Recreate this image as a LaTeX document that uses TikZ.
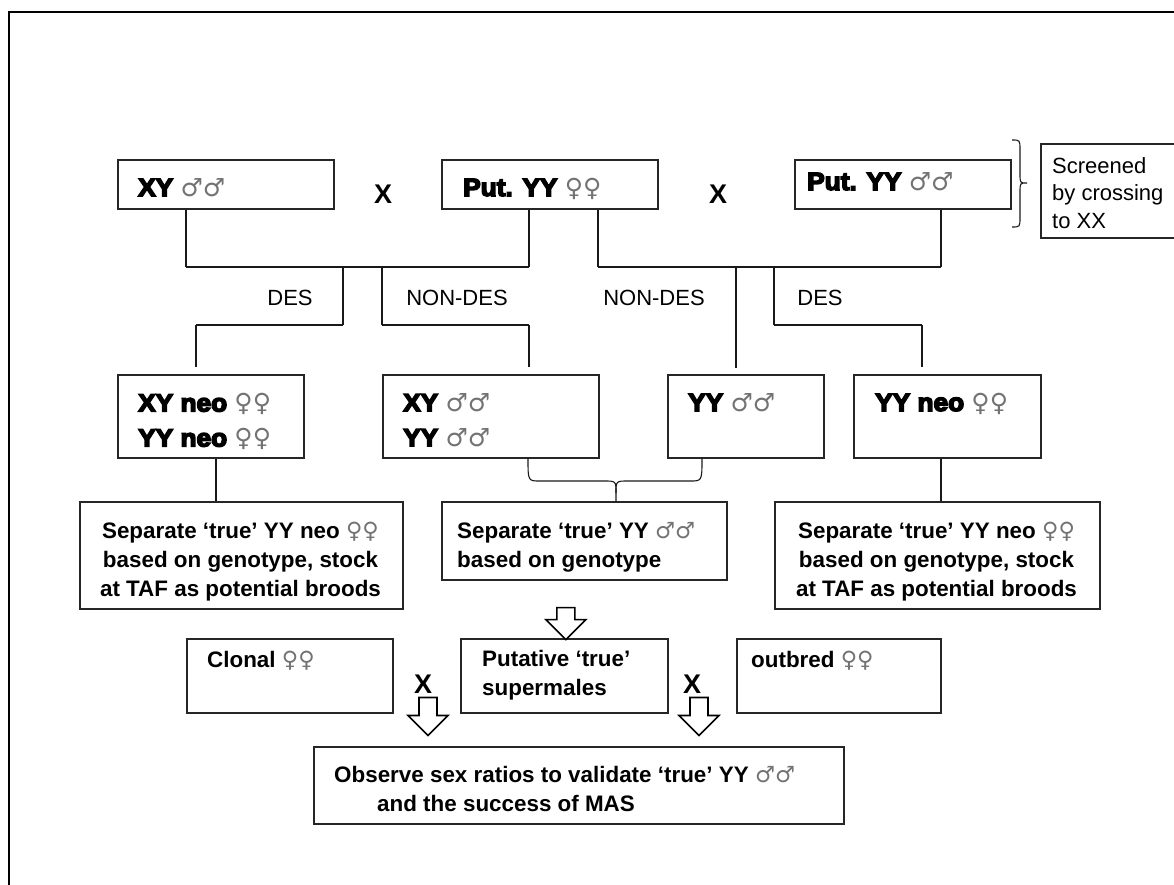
\documentclass[tikz,border=0pt]{standalone}
\usepackage{fontspec}
\setmainfont{Liberation Sans}
\newfontfamily\heavyfont[FakeBold=6, FakeStretch=1.05]{Liberation Sans Bold}
\newfontfamily\symfont{DejaVu Sans}
\usetikzlibrary{positioning, calc}
\newcommand{\mm}{{\symfont\color{black!55}♂♂}}
\newcommand{\ff}{{\symfont\color{black!55}♀♀}}
\tikzset{
  box/.style={rectangle, draw=black!85, line width=1.6pt, anchor=north west, inner sep=0pt},
  conn/.style={draw=black!90, line width=1.1pt},
  bar/.style={draw=black!90, line width=2pt},
  heavy/.style={font=\heavyfont\fontsize{25}{35}\selectfont, inner sep=0pt, align=left},
  bold/.style={font=\bfseries\fontsize{22.4}{29}\selectfont, inner sep=0pt},
  plain/.style={font=\fontsize{22}{27.5}\selectfont, inner sep=0pt},
  cross/.style={font=\bfseries\fontsize{27}{27}\selectfont, inner sep=0pt},
  pics/hollow/.style={code={\draw[line width=1.6pt, fill=white, line join=miter]
    (-9,0) -- (9,0) -- (9,#1) -- (20,#1) -- (0,#1+20) -- (-20,#1) -- (-9,#1) -- cycle;}},
  pics/hollow/.default=18
}
\begin{document}
\begin{tikzpicture}[x=1pt, y=-1pt]
  \useasboundingbox (0,0) rectangle (1174,884);
  % frame
  \draw[line width=2.2pt] (9,890) -- (9,12) -- (1180,12);

  % parents
  \node[box, minimum width=216, minimum height=49] (xy) at (117,159) {};
  \node[box, minimum width=216, minimum height=49] (pyyf) at (441,159) {};
  \node[box, minimum width=216, minimum height=49] (pyym) at (794,159) {};
  \node[box, minimum width=140, minimum height=94] (screen) at (1040,143) {};
  \node[heavy, anchor=base west] (txy) at (138,196) {XY \mm};
  \node[heavy, anchor=base west] (tpyyf) at (463,196) {Put. YY \ff};
  \node[heavy, anchor=base west] (tpyym) at (807,190) {Put. YY \mm};
  \node[plain, anchor=north west, align=left] (tscreen) at (1052,157)
    {Screened\\by crossing\\to XX};
  \node[cross] (x1) at (383,194) {X};
  \node[cross] (x2) at (718,194) {X};
  \draw[conn] (1012,140) .. controls (1020,140) .. (1020,150) -- (1020,174)
    .. controls (1020,183) .. (1027,183) .. controls (1020,183) .. (1020,192)
    -- (1020,217) .. controls (1020,227) .. (1012,227);

  % offspring
  \node[box, minimum width=186, minimum height=83] (neof) at (117,374) {};
  \node[box, minimum width=216, minimum height=83] (xyyym) at (382,374) {};
  \node[box, minimum width=156, minimum height=83] (yym) at (667,374) {};
  \node[box, minimum width=187, minimum height=83] (yyneo) at (853,374) {};
  \node[heavy, anchor=north west] (tneof) at (138,393) {XY neo \ff\\YY neo \ff};
  \node[heavy, anchor=north west] (txyyym) at (403,393) {XY \mm\\YY \mm};
  \node[heavy, anchor=base west] (tyym) at (688,411) {YY \mm};
  \node[heavy, anchor=base west] (tyyneo) at (875,411) {YY neo \ff};

  % crosses -> offspring
  \coordinate (ja) at (186,267);
  \coordinate (jb) at (529,267);
  \coordinate (jc) at (598,267);
  \coordinate (jd) at (941,267);
  \draw[conn] (xy.south -| ja) -- (ja);
  \draw[conn] (pyyf.south -| jb) -- (jb);
  \draw[bar] (ja) -- (jb);
  \draw[conn] (pyyf.south -| jc) -- (jc);
  \draw[conn] (pyym.south -| jd) -- (jd);
  \draw[bar] (jc) -- (jd);
  \coordinate (k1) at (343,325);
  \coordinate (k2) at (196,325);
  \coordinate (k3) at (382,325);
  \coordinate (k4) at (529,325);
  \coordinate (k5) at (736,325);
  \coordinate (k6) at (774,325);
  \coordinate (k7) at (922,325);
  \draw[conn] (k1 |- ja) -- (k1);
  \draw[bar] (k1) -- (k2);
  \draw[conn] (k2) -- ($(k2 |- neof.north)+(0,-7)$);
  \draw[conn] (k3 |- ja) -- (k3);
  \draw[bar] (k3) -- (k4);
  \draw[conn] (k4) -- ($(k4 |- xyyym.north)+(0,-7)$);
  \draw[conn] (k5 |- jc) -- ($(k5 |- yym.north)+(0,-6)$);
  \draw[conn] (k6 |- jc) -- (k6);
  \draw[bar] (k6) -- (k7);
  \draw[conn] (k7) -- ($(k7 |- yyneo.north)+(0,-7)$);
  \node[plain, anchor=base] (des1) at (290,305) {DES};
  \node[plain, anchor=base] (ndes1) at (457,305) {NON-DES};
  \node[plain, anchor=base] (ndes2) at (654,305) {NON-DES};
  \node[plain, anchor=base] (des2) at (820,305) {DES};

  % selection
  \node[box, minimum width=323, minimum height=107] (sepl) at (79,501) {};
  \node[box, minimum width=285, minimum height=78] (sepm) at (441,501) {};
  \node[box, minimum width=325, minimum height=107] (sepr) at (774,501) {};
  \node[bold, anchor=north, align=center] (tsepl) at (240.5,522)
    {Separate ‘true’ YY neo \ff\\based on genotype, stock\\at TAF as potential broods};
  \node[bold, anchor=north west, align=left] (tsepm) at (457,522)
    {Separate ‘true’ YY \mm\\based on genotype};
  \node[bold, anchor=north, align=center] (tsepr) at (936.5,522)
    {Separate ‘true’ YY neo \ff\\based on genotype, stock\\at TAF as potential broods};
  \coordinate (m1) at (216,0);
  \coordinate (m2) at (941,0);
  \draw[conn] (neof.south -| m1) -- (sepl.north -| m1);
  \draw[conn] (yyneo.south -| m2) -- (sepr.north -| m2);
  \coordinate (bl) at (528,481);
  \coordinate (bt) at (616,481);
  \coordinate (br) at (702,481);
  \draw[conn] (xyyym.south -| bl) .. controls (bl) .. ($(bl)+(12,0)$) -- ($(bt)+(-12,0)$)
    .. controls (bt) .. ($(bt)+(0,12)$) -- (sepm.north -| bt);
  \draw[conn] (yym.south -| br) .. controls (br) .. ($(br)+(-12,0)$) -- ($(bt)+(12,0)$)
    .. controls (bt) .. ($(bt)+(0,12)$);

  % validation crosses
  \node[box, minimum width=206, minimum height=74] (clonal) at (186,638) {};
  \node[box, minimum width=207, minimum height=74] (super) at (460,638) {};
  \node[box, minimum width=204, minimum height=74] (outbred) at (736,638) {};
  \node[bold, anchor=base west] (tclonal) at (207,667) {Clonal \ff};
  \node[bold, anchor=north west, align=left] (tsuper) at (482,650)
    {Putative ‘true’\\supermales};
  \node[bold, anchor=base west] (toutbred) at (751,667) {outbred \ff};
  \node[cross] (x3) at (423,684) {X};
  \node[cross] (x4) at (692,684) {X};
  \pic at ([xshift=-18.5pt, yshift=-27pt]sepm.south) {hollow=12};
  \pic at ([xshift=5pt, yshift=-4pt]x3.south) {hollow};
  \pic at ([xshift=7pt, yshift=-4pt]x4.south) {hollow};

  % result
  \node[box, minimum width=530, minimum height=77] (final) at (313,746) {};
  \node[bold, anchor=north west, align=left] (tfinal) at (334,766)
    {Observe sex ratios to validate ‘true’ YY \mm\\\hspace*{43pt}and the success of MAS};
\end{tikzpicture}
\end{document}
